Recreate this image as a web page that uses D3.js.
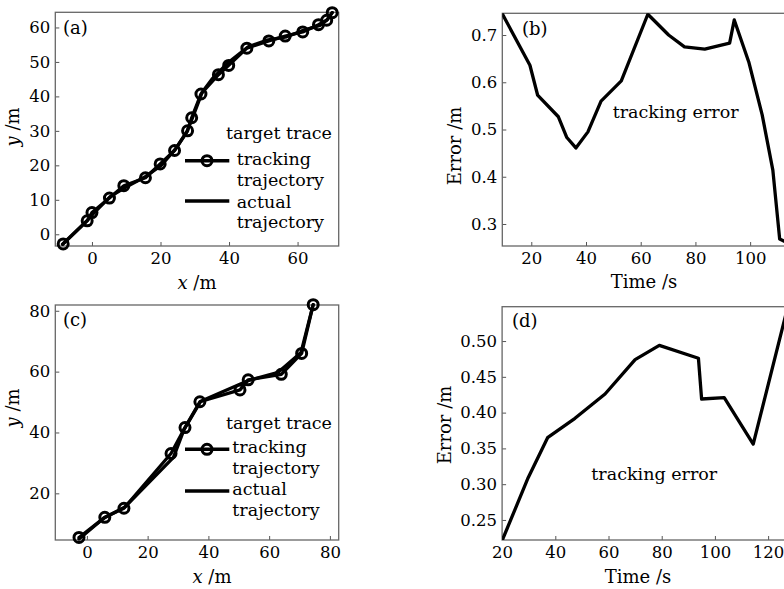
<!DOCTYPE html>
<html><head><meta charset="utf-8">
<script src="https://cdn.jsdelivr.net/npm/d3@7"></script>
<style>
body{margin:0;background:#fff}
text{font-family:"DejaVu Serif",serif;fill:#000}
</style>
</head><body>
<svg id="chart" width="784" height="589"></svg>
<script>
// ---------- data ----------
const aTrackX  = [-8.4,-1.4,0,5.1,9.3,15.6,19.9,24.1,27.9,29.1,31.8,36.9,39.9,45.2,51.6,56.4,61.5,66.1,68.5,70.1];
const aTrackY  = [-2.8,3.9,6.3,10.5,14.1,16.4,20.4,24.3,30,33.8,40.7,46.3,49,54,56.1,57.5,58.7,60.8,62.1,64.3];
const aActualX = [-8.6,-1.0,0.4,5.3,9.8,15.4,20.2,24.4,27.6,29.5,32.2,35.0,39.5,45.6,51.0,56.8,61.2,66.5,68.8,70.1];
const aActualY = [-2.9,4.4,6.0,10.9,13.6,16.6,20.0,24.8,29.6,34.2,41.3,45.0,49.6,54.4,56.3,57.3,59.0,60.6,62.4,64.3];

const bTime = [9.4,19.5,22.3,29.9,33.0,36.3,40.7,45.5,52.9,62.6,70.2,76.0,83.4,92.5,94.2,99.5,104.4,108.3,110.8,113];
const bErr  = [0.745,0.636,0.573,0.527,0.483,0.461,0.495,0.560,0.603,0.744,0.700,0.675,0.670,0.683,0.732,0.643,0.531,0.414,0.268,0.262];

const cTrackX  = [-2.6,5.9,12.2,27.7,32.3,37.2,50.4,53.1,64.0,70.7,74.5];
const cTrackY  = [5.5,12.1,15.1,33.1,41.6,50.1,54.0,57.3,59.1,66.0,82.0];
const cActualX = [-2.6,5.5,12.5,28.5,32.0,37.5,53.0,63.0,70.5,74.5];
const cActualY = [5.0,11.8,15.5,31.8,41.0,50.3,57.0,59.8,66.3,82.0];

const dTime = [20.1,29.8,37.1,47.4,58.7,70.0,79.1,93.8,95.0,103.5,114.4,127.4];
const dErr  = [0.222,0.309,0.365,0.392,0.426,0.474,0.494,0.476,0.419,0.421,0.356,0.548];

const aXTicks = [0,20,40,60];
const aYTicks = [0,10,20,30,40,50,60];
const bXTicks = [20,40,60,80,100];
const bYTicks = [0.3,0.4,0.5,0.6,0.7];
const cXTicks = [0,20,40,60,80];
const cYTicks = [20,40,60,80];
const dXTicks = [20,40,60,80,100,120];
const dYTicks = [0.25,0.30,0.35,0.40,0.45,0.50];

const legendLabels = ["target trace", ["tracking","trajectory"], ["actual","trajectory"]];
const annotation = "tracking error";
const panelTags = ["(a)","(b)","(c)","(d)"];

// ---------- drawing ----------
const svg = d3.select("#chart");
const zip = (xs, ys) => xs.map((x, i) => [x, ys[i]]);
const R = 5, CW = 3;

function panel(o) {
  const g = svg.append("g");
  const x = d3.scaleLinear().domain(o.xd).range([o.left, o.right]);
  const y = d3.scaleLinear().domain(o.yd).range([o.bottom, o.top]);
  const id = "clip" + o.tag.replace(/\W/g, "");
  svg.append("clipPath").attr("id", id).append("rect")
    .attr("x", o.left).attr("y", o.top).attr("width", o.right - o.left).attr("height", o.bottom - o.top);

  const xa = g.append("g").attr("transform", `translate(0,${o.bottom})`)
    .call(d3.axisBottom(x).tickValues(o.xt).tickSizeInner(-4).tickSizeOuter(0).tickPadding(6).tickFormat(o.xf || d3.format("d")));
  const ya = g.append("g").attr("transform", `translate(${o.left},0)`)
    .call(d3.axisLeft(y).tickValues(o.yt).tickSizeInner(-4).tickSizeOuter(0).tickPadding(5).tickFormat(o.yf || d3.format("d")));
  [xa, ya].forEach(a => {
    a.select(".domain").remove();
    a.selectAll("line").attr("stroke", "#555").attr("stroke-width", 1);
    a.selectAll("text").style("font-family", '"DejaVu Serif",serif').style("font-size", "16.5px").attr("fill", "#000");
  });

  g.append("rect").attr("x", o.left).attr("y", o.top)
    .attr("width", o.right - o.left).attr("height", o.bottom - o.top)
    .attr("fill", "none").attr("stroke", "#666").attr("stroke-width", 1.3);

  const line = d3.line().x(d => x(d[0])).y(d => y(d[1]));
  const lg = g.append("g").attr("clip-path", o.clip ? `url(#${id})` : null);
  o.lines.forEach(L => {
    lg.append("path").datum(L.pts).attr("d", line)
      .attr("fill", "none").attr("stroke", "#000").attr("stroke-width", L.w || 3.3)
      .attr("stroke-linejoin", "round").attr("stroke-linecap", "round");
    if (L.circles) {
      g.append("g").selectAll("circle").data(L.pts).join("circle")
        .attr("cx", d => x(d[0])).attr("cy", d => y(d[1])).attr("r", R)
        .attr("fill", "none").attr("stroke", "#000").attr("stroke-width", CW);
    }
  });

  g.append("text").attr("x", o.tagPos[0]).attr("y", o.tagPos[1]).attr("dy", "0.35em")
    .style("font-size", "18px").text(o.tag);

  const xl = g.append("text").attr("x", o.xlPos[0]).attr("y", o.xlPos[1]).attr("dy", "0.35em")
    .attr("text-anchor", "middle").style("font-size", "18px");
  if (o.xlItalic) { xl.append("tspan").style("font-style", "italic").text(o.xlItalic); xl.append("tspan").text(o.xl); }
  else xl.text(o.xl);

  const yl = g.append("text").attr("transform", `translate(${o.ylPos[0]},${o.ylPos[1]}) rotate(-90)`)
    .attr("dy", "0.35em").attr("text-anchor", "middle").style("font-size", "18px");
  if (o.ylItalic) { yl.append("tspan").style("font-style", "italic").text(o.ylItalic); yl.append("tspan").text(o.yl); }
  else yl.text(o.yl);

  if (o.annot) {
    g.append("text").attr("x", o.annot[0]).attr("y", o.annot[1]).attr("dy", "0.35em")
      .style("font-size", "17.5px").text(annotation);
  }
  if (o.legend) {
    const L = o.legend;
    g.append("text").attr("x", L.x0).attr("y", L.ys[0]).attr("dy", "0.35em").style("font-size", "17.5px").text(legendLabels[0]);
    [[1, 1], [2, 3]].forEach(([k, yi]) => {
      legendLabels[k].forEach((s, j) => {
        g.append("text").attr("x", L.x1).attr("y", L.ys[yi + j]).attr("dy", "0.35em").style("font-size", "17.5px").text(s);
      });
    });
    g.append("line").attr("x1", 185).attr("x2", 229.3).attr("y1", L.h1).attr("y2", L.h1).attr("stroke", "#000").attr("stroke-width", 3.4);
    g.append("circle").attr("cx", 207).attr("cy", L.h1).attr("r", R).attr("fill", "none").attr("stroke", "#000").attr("stroke-width", CW);
    g.append("line").attr("x1", 185).attr("x2", 229.3).attr("y1", L.h2).attr("y2", L.h2).attr("stroke", "#000").attr("stroke-width", 3.4);
  }
}

panel({
  tag: panelTags[0], left: 55.3, right: 338.7, top: 12.3, bottom: 246,
  xd: [-10.7, 72], yd: [-3.4, 64.4], xt: aXTicks, yt: aYTicks,
  lines: [{ pts: zip(aActualX, aActualY) }, { pts: zip(aTrackX, aTrackY), circles: true }],
  tagPos: [63, 27.5], xlItalic: "x", xl: " /m", xlPos: [197, 283], ylItalic: "y", yl: " /m", ylPos: [13, 127],
  legend: { x0: 226, x1: 236.7, ys: [132.7, 159.3, 180, 201.7, 221.7], h1: 160.7, h2: 201 }
});
panel({
  tag: panelTags[1], left: 502.3, right: 785.7, top: 13.3, bottom: 246, clip: true,
  xd: [9.4, 113], yd: [0.2534, 0.746], xt: bXTicks, yt: bYTicks, yf: d3.format(".1f"),
  lines: [{ pts: zip(bTime, bErr) }],
  tagPos: [522, 29], xl: "Time /s", xlPos: [644, 282], yl: "Error /m", ylPos: [455, 146],
  annot: [612.7, 111.7]
});
panel({
  tag: panelTags[2], left: 55.3, right: 338.7, top: 305, bottom: 540,
  xd: [-10.4, 82.9], yd: [4.66, 81.9], xt: cXTicks, yt: cYTicks,
  lines: [{ pts: zip(cActualX, cActualY) }, { pts: zip(cTrackX, cTrackY), circles: true }],
  tagPos: [63, 320], xlItalic: "x", xl: " /m", xlPos: [212, 577], ylItalic: "y", yl: " /m", ylPos: [13, 408],
  legend: { x0: 226, x1: 232.3, ys: [422.7, 446.7, 468.3, 489.3, 510], h1: 449.3, h2: 491 }
});
panel({
  tag: panelTags[3], left: 502.1, right: 787.8, top: 306.7, bottom: 540, clip: true,
  xd: [20, 127.4], yd: [0.222, 0.548], xt: dXTicks, yt: dYTicks, yf: d3.format(".2f"),
  lines: [{ pts: zip(dTime, dErr) }],
  tagPos: [512, 321], xl: "Time /s", xlPos: [638, 577], yl: "Error /m", ylPos: [445, 425],
  annot: [591.3, 474.3]
});
</script>
</body></html>
